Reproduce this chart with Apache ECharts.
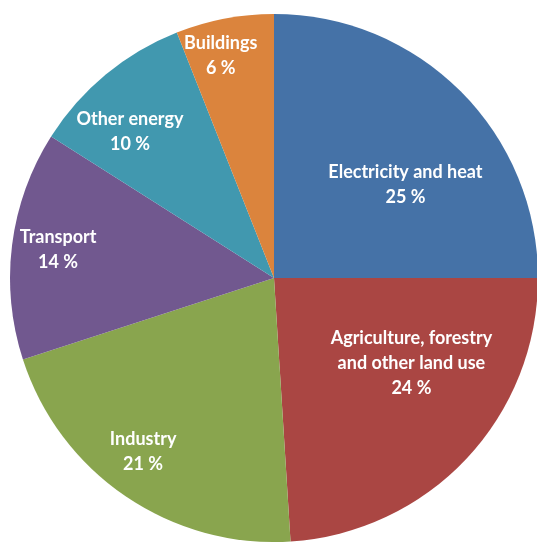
<!DOCTYPE html>
<html>
<head>
<meta charset="utf-8">
<script src="https://cdn.jsdelivr.net/npm/echarts@6/dist/echarts.min.js"></script>
<style>
  html, body { margin: 0; padding: 0; background: #ffffff; }
  #chart { width: 537px; height: 542px; }
</style>
</head>
<body>
<div id="chart"></div>
<script>
// Greenhouse gas emissions by economic sector (share of total, %)
const sectors = [
  'Electricity and heat',
  'Agriculture, forestry\nand other land use',
  'Industry',
  'Transport',
  'Other energy',
  'Buildings'
];
const shares = [25, 24, 21, 14, 10, 6];
const sliceColors = ['#4572A7', '#AA4643', '#89A54E', '#71588F', '#4198AF', '#DB843D'];
// Nudges of each label away from the default mid-radius spot
const labelNudge = [[36, 2], [39, -7], [-55, 62], [-82, -11], [-58, -42], [-28, -90]];

const chart = echarts.init(document.getElementById('chart'), null, { renderer: 'canvas' });

chart.setOption({
  animation: false,
  backgroundColor: '#ffffff',
  series: [{
    type: 'pie',
    center: [274, 278],
    radius: [0, 264],
    startAngle: 90,
    clockwise: true,
    avoidLabelOverlap: false,
    silent: true,
    itemStyle: { borderWidth: 0 },
    label: {
      show: true,
      position: 'inside',
      color: '#ffffff',
      fontFamily: 'Lato, "Open Sans", sans-serif',
      fontWeight: 'bold',
      fontSize: 18,
      lineHeight: 25,
      align: 'center',
      formatter: p => p.name + '\n' + p.value + ' %'
    },
    labelLine: { show: false },
    labelLayout: params => ({
      dx: labelNudge[params.dataIndex][0],
      dy: labelNudge[params.dataIndex][1]
    }),
    data: sectors.map((name, i) => ({
      name: name,
      value: shares[i],
      itemStyle: { color: sliceColors[i] }
    }))
  }]
});
</script>
</body>
</html>
